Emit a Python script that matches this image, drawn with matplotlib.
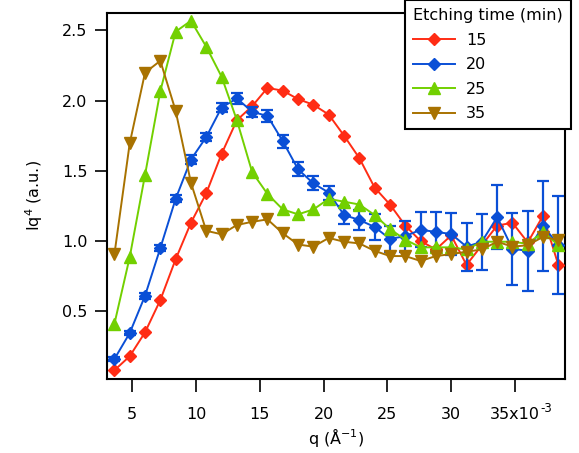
import matplotlib
matplotlib.use("Agg")
import matplotlib.pyplot as plt
from matplotlib.lines import Line2D

# q in units of 1e-3 A^-1
q = [3.6, 4.8, 6.0, 7.2, 8.4, 9.6, 10.8, 12.0, 13.2, 14.4,
     15.6, 16.8, 18.0, 19.2, 20.4, 21.6, 22.8, 24.0, 25.2, 26.4,
     27.6, 28.8, 30.0, 31.2, 32.4, 33.6, 34.8, 36.0, 37.2, 38.4]

s15 = [0.08, 0.18, 0.35, 0.58, 0.87, 1.13, 1.34, 1.62, 1.86, 1.96,
       2.09, 2.07, 2.01, 1.97, 1.90, 1.75, 1.59, 1.38, 1.26, 1.11,
       1.00, 0.94, 1.04, 0.83, 0.97, 1.11, 1.13, 0.99, 1.18, 0.83]

s20 = [0.16, 0.345, 0.61, 0.95, 1.30, 1.58, 1.74, 1.95, 2.015, 1.92,
       1.89, 1.71, 1.51, 1.41, 1.345, 1.185, 1.15, 1.10, 1.015, 1.035,
       1.08, 1.065, 1.05, 0.96, 0.995, 1.17, 0.945, 0.93, 1.11, 0.97]

s20_err = [0.015, 0.015, 0.02, 0.02, 0.025, 0.03, 0.03, 0.03, 0.04, 0.035,
           0.04, 0.045, 0.05, 0.05, 0.05, 0.065, 0.07, 0.09, 0.09, 0.11,
           0.125, 0.14, 0.15, 0.17, 0.20, 0.23, 0.255, 0.285, 0.32, 0.35]

s25 = [0.41, 0.885, 1.47, 2.067, 2.49, 2.568, 2.383, 2.17, 1.86, 1.49,
       1.335, 1.225, 1.19, 1.225, 1.30, 1.28, 1.26, 1.185, 1.085, 1.01,
       0.955, 0.955, 0.955, 0.94, 0.995, 0.995, 0.995, 0.98, 1.065, 0.97]

s35 = [0.905, 1.695, 2.198, 2.283, 1.927, 1.415, 1.073, 1.048, 1.114, 1.137,
       1.154, 1.055, 0.975, 0.96, 1.022, 0.995, 0.983, 0.93, 0.893, 0.893,
       0.858, 0.893, 0.907, 0.924, 0.94, 0.995, 0.96, 0.97, 1.03, 1.007]

labels = ["15", "20", "25", "35"]
xticks = [5, 10, 15, 20, 25, 30, 35]
xticklabels = ["5", "10", "15", "20", "25", "30", "35x10"]
x_exponent = "-3"
yticks = [0.5, 1.0, 1.5, 2.0, 2.5]

c_red = "#FF2C14"
c_blue = "#0A4FD6"
c_green = "#72D000"
c_brown = "#A87200"

plt.rcParams["font.family"] = ["DejaVu Sans"]
plt.rcParams["font.size"] = 11.5

fig = plt.figure(figsize=(5.79, 4.53), dpi=100)
ax = fig.add_axes([107/579, 1-379/453, (565-107)/579, (379-13)/453])

lw = 1.4
ax.plot(q, s15, color=c_red, marker="D", ms=6.5, lw=lw, zorder=3)
ax.errorbar(q, s20, yerr=s20_err, color=c_blue, marker="D", ms=6.5, lw=lw,
            elinewidth=1.6, capsize=4, capthick=1.6, zorder=4)
ax.plot(q, s25, color=c_green, marker="^", ms=9, lw=lw, zorder=5)
ax.plot(q, s35, color=c_brown, marker="v", ms=9, lw=lw, zorder=6)

ax.set_xlim(3.02, 38.92)
ax.set_ylim(0.018, 2.623)
ax.set_xticks(xticks)
ax.set_xticklabels(xticklabels)
ax.set_yticks(yticks)
ax.set_yticklabels([f"{v:.1f}" for v in yticks])
ax.tick_params(axis="both", direction="out", length=9, width=1.2, colors="black")
ax.tick_params(axis="x", pad=11)
ax.tick_params(axis="y", pad=5)
for sp in ax.spines.values():
    sp.set_linewidth(1.5)
    sp.set_color("black")

# superscript exponent attached to the last tick label
last_label = ax.get_xticklabels()[-1]
ax.annotate(x_exponent, xy=(1, 1), xycoords=last_label,
            xytext=(0.5, -1.5), textcoords="offset points",
            ha="left", va="center", fontsize=8.5)

ax.set_xlabel("q (Å$^{-1}$)")
ax.xaxis.set_label_coords(0.5, -0.128)
ax.set_ylabel("Iq$^{4}$ (a.u.)")
ax.yaxis.set_label_coords(-0.135, 0.5)

handles = [
    Line2D([], [], color=c_red, marker="D", ms=6.5, lw=lw),
    Line2D([], [], color=c_blue, marker="D", ms=6.5, lw=lw),
    Line2D([], [], color=c_green, marker="^", ms=9, lw=lw),
    Line2D([], [], color=c_brown, marker="v", ms=9, lw=lw),
]
leg = ax.legend(handles, labels, title="Etching time (min)", loc="upper right",
                bbox_to_anchor=(571/579, 1.0), bbox_transform=fig.transFigure,
                borderaxespad=0, fancybox=False, frameon=True, framealpha=1,
                edgecolor="black", handlelength=2.6, handletextpad=0.7,
                labelspacing=0.6, borderpad=0.5, fontsize=11.5,
                title_fontsize=11.5, alignment="left")
leg.get_frame().set_linewidth(1.5)
leg.set_zorder(10)

fig.savefig("out.png", dpi=100)
